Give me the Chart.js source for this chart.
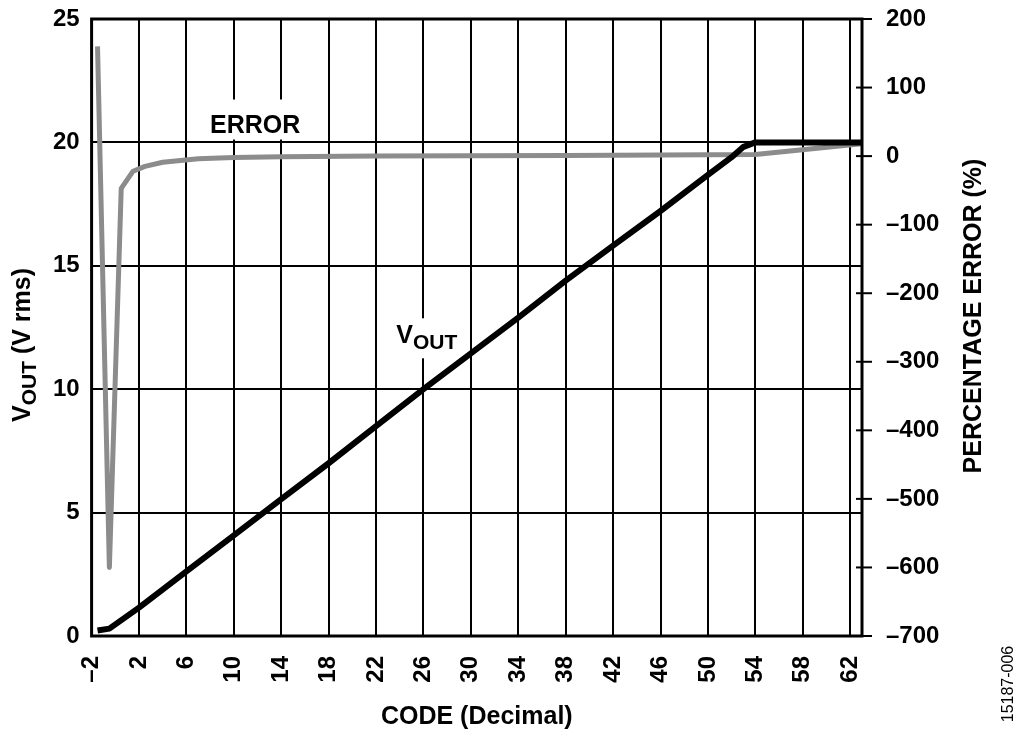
<!DOCTYPE html>
<html>
<head>
<meta charset="utf-8">
<script src="https://cdn.jsdelivr.net/npm/chart.js@4.4.1/dist/chart.umd.min.js"></script>
<style>
  html, body { margin: 0; padding: 0; background: #fff; }
  #wrap { width: 1024px; height: 737px; }
</style>
</head>
<body>
<div id="wrap"><canvas id="c" width="1024" height="737"></canvas></div>
<script>
// values
const xTicks = [-2, 2, 6, 10, 14, 18, 22, 26, 30, 34, 38, 42, 46, 50, 54, 58, 62];

const voutCodes  = [-1.5, -0.5, 2, 6, 10, 14, 18, 22, 26, 30, 34, 38, 42, 46, 50, 52, 53, 54, 63];
const voutValues = [0.22, 0.30, 1.15, 2.62, 4.08, 5.55, 7.0, 8.5, 10.0, 11.45, 12.9, 14.4, 15.82, 17.22, 18.68, 19.4, 19.82, 20.0, 20.0];

const errorCodes  = [-1.5, -0.5, 0.5, 1.5, 2.5, 4, 7, 10, 14, 22, 30, 38, 46, 54, 63];
const errorValues = [160, -600, -47, -22, -15, -9, -4, -2, -1, 0, 0.5, 1, 1.5, 2.5, 18];

const FONT = '"Liberation Sans", Arial, sans-serif';
const GRAY = '#8c8c8c';

const pts = (xs, ys) => xs.map((x, i) => ({x, y: ys[i]}));
const dash = v => String(v).replace('-', '\u2013');

// draws text with a subscript part, left to right from x
function drawSub(ctx, x, y, main, sub, rest, size, subSize, shift) {
  ctx.textAlign = 'left';
  ctx.textBaseline = 'alphabetic';
  ctx.font = `bold ${size}px ${FONT}`;
  ctx.fillText(main, x, y);
  x += ctx.measureText(main).width;
  ctx.font = `bold ${subSize}px ${FONT}`;
  ctx.fillText(sub, x, y + shift);
  x += ctx.measureText(sub).width;
  ctx.font = `bold ${size}px ${FONT}`;
  ctx.fillText(rest, x, y);
}

function subWidth(ctx, main, sub, rest, size, subSize) {
  ctx.font = `bold ${size}px ${FONT}`;
  let w = ctx.measureText(main).width + ctx.measureText(rest).width;
  ctx.font = `bold ${subSize}px ${FONT}`;
  return w + ctx.measureText(sub).width;
}

const overlay = {
  id: 'overlay',
  beforeDatasetsDraw(chart) {
    const {ctx, scales: {x, y}} = chart;
    ctx.save();
    // ERROR label
    let ex = x.getPixelForValue(11.8), ey = y.getPixelForValue(20.4);
    ctx.fillStyle = '#fff';
    ctx.fillRect(ex - 55, ey - 33, 110, 40);
    ctx.fillStyle = '#000';
    ctx.font = `bold 25px ${FONT}`;
    ctx.textAlign = 'center';
    ctx.textBaseline = 'alphabetic';
    ctx.fillText('ERROR', ex, ey);
    // VOUT label
    let vx = x.getPixelForValue(23.7), vy = y.getPixelForValue(11.86);
    ctx.fillStyle = '#fff';
    ctx.fillRect(vx - 9, vy - 25, 78, 40);
    ctx.fillStyle = '#000';
    drawSub(ctx, vx, vy, 'V', 'OUT', '', 25, 21, 6);
    ctx.restore();
  },
  afterDatasetsDraw(chart) {
    const {ctx, chartArea: a, scales: {y2}} = chart;
    ctx.save();
    ctx.strokeStyle = '#000';
    ctx.lineWidth = 2;
    y2.ticks.forEach(t => {
      const py = y2.getPixelForValue(t.value);
      ctx.beginPath();
      ctx.moveTo(a.right - 6, py);
      ctx.lineTo(a.right + 10, py);
      ctx.stroke();
    });
    ctx.lineWidth = 3;
    ctx.strokeRect(a.left, a.top, a.right - a.left, a.bottom - a.top);
    ctx.restore();
  },
  afterDraw(chart) {
    const {ctx, chartArea: a} = chart;
    ctx.save();
    ctx.fillStyle = '#000';
    // left title
    ctx.save();
    ctx.translate(30, 345);
    ctx.rotate(-Math.PI / 2);
    const lw = subWidth(ctx, 'V', 'OUT', ' (V rms)', 25, 21);
    drawSub(ctx, -lw / 2, 0, 'V', 'OUT', ' (V rms)', 25, 21, 6);
    ctx.restore();
    // right title
    ctx.save();
    ctx.translate(981, 316);
    ctx.rotate(-Math.PI / 2);
    ctx.font = `bold 25px ${FONT}`;
    ctx.textAlign = 'center';
    ctx.textBaseline = 'alphabetic';
    ctx.fillText('PERCENTAGE ERROR (%)', 0, 0);
    ctx.restore();
    // bottom title
    ctx.font = `bold 25px ${FONT}`;
    ctx.textAlign = 'center';
    ctx.textBaseline = 'alphabetic';
    ctx.fillText('CODE (Decimal)', (a.left + a.right) / 2, 724);
    // figure id
    ctx.save();
    ctx.translate(1013, 684);
    ctx.rotate(-Math.PI / 2);
    ctx.font = `16px ${FONT}`;
    ctx.fillText('15187-006', 0, 0);
    ctx.restore();
    ctx.restore();
  }
};

const tickFont = {family: FONT, size: 24, weight: 'bold'};

new Chart(document.getElementById('c'), {
  type: 'line',
  data: {
    datasets: [
      {label: 'VOUT', data: pts(voutCodes, voutValues), yAxisID: 'y',
       borderColor: '#000', borderWidth: 6, pointRadius: 0, tension: 0, borderJoinStyle: 'round'},
      {label: 'ERROR', data: pts(errorCodes, errorValues), yAxisID: 'y2',
       borderColor: GRAY, borderWidth: 5, pointRadius: 0, tension: 0, borderJoinStyle: 'round'}
    ]
  },
  options: {
    responsive: false,
    animation: false,
    devicePixelRatio: 1,
    layout: {padding: {top: 19, left: 0, right: 0, bottom: 0}},
    plugins: {legend: {display: false}, tooltip: {enabled: false}},
    scales: {
      x: {
        type: 'linear', min: -2, max: 63,
        afterBuildTicks: s => { s.ticks = xTicks.map(v => ({value: v})); },
        afterFit: s => { s.height = 101; s.paddingLeft = 0; s.paddingRight = 0; },
        ticks: {color: '#000', font: tickFont, autoSkip: false, minRotation: 90, maxRotation: 90,
                padding: 20, callback: v => dash(v)},
        grid: {color: '#000', lineWidth: 2, drawTicks: false},
        border: {display: false}
      },
      y: {
        position: 'left', min: 0, max: 25,
        ticks: {stepSize: 5, color: '#000', font: tickFont, padding: 12},
        afterFit: s => { s.width = 91.6; s.paddingTop = 0; s.paddingBottom = 0; },
        grid: {color: '#000', lineWidth: 2, drawTicks: false},
        border: {display: false}
      },
      y2: {
        position: 'right', min: -700, max: 200,
        ticks: {stepSize: 100, color: '#000', font: tickFont, padding: 24, callback: v => dash(v)},
        afterFit: s => { s.width = 162; s.paddingTop = 0; s.paddingBottom = 0; },
        grid: {display: false, drawTicks: false},
        border: {display: false}
      }
    }
  },
  plugins: [overlay]
});
</script>
</body>
</html>
